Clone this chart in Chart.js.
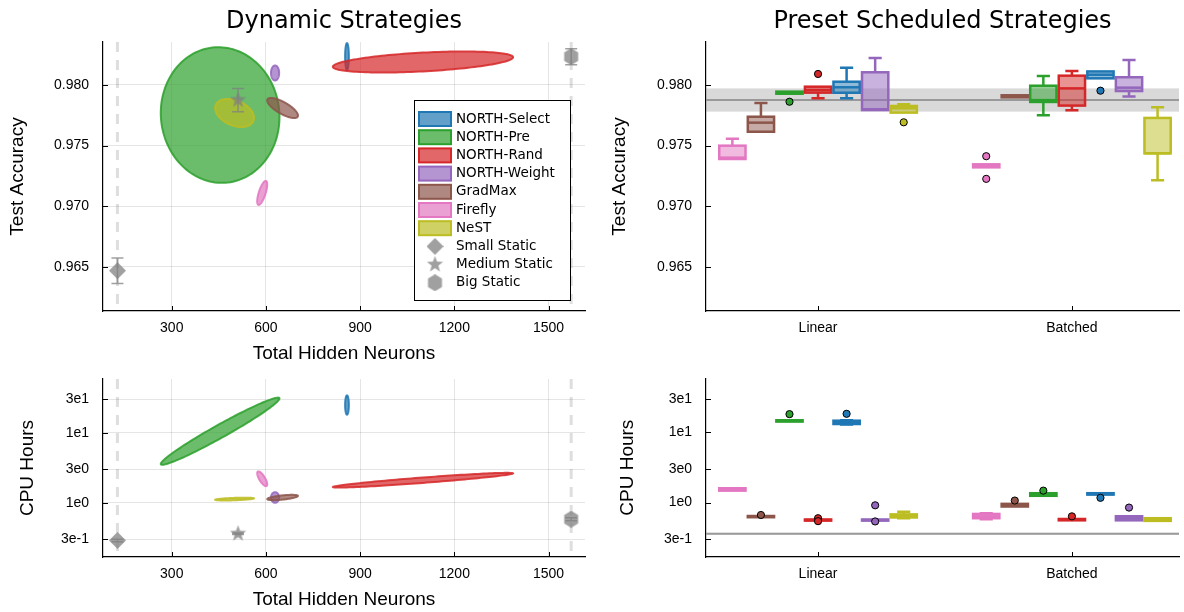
<!DOCTYPE html>
<html>
<head>
<meta charset="utf-8">
<script src="https://cdn.jsdelivr.net/npm/chart.js@4.4.1/dist/chart.umd.min.js"></script>
<style>
html, body { margin: 0; padding: 0; background: #fff; }
#wrap { position: relative; width: 1184px; height: 612px; }
canvas { position: absolute; }
</style>
</head>
<body>
<div id="wrap">
<canvas id="dynAcc" width="600" height="370" style="left:0;top:0"></canvas>
<canvas id="presetAcc" width="584" height="370" style="left:600px;top:0"></canvas>
<canvas id="dynCpu" width="600" height="242" style="left:0;top:370px"></canvas>
<canvas id="presetCpu" width="584" height="242" style="left:600px;top:370px"></canvas>
</div>
<script>
const FONT = "'DejaVu Sans', sans-serif"

// strategies (legend order) and their colours
const strategies = ['NORTH-Select', 'NORTH-Pre', 'NORTH-Rand', 'NORTH-Weight', 'GradMax', 'Firefly', 'NeST']
const colors = ['#1f77b4', '#2ca02c', '#d62728', '#9467bd', '#8c564b', '#e377c2', '#bcbd22']

// dynamic strategies: mean and spread of hidden neurons, accuracy and cpu hours
const neuronMean = [858, 454, 1100, 629, 653, 588, 500]
const neuronSpread = [6, 189, 287, 13, 49, 16, 62]
const accMean = [0.98235, 0.97752, 0.98190, 0.98099, 0.97810, 0.97109, 0.97769]
const accSpread = [0.00111, 0.00560, 0.00087, 0.00062, 0.00083, 0.00099, 0.00116]
const accCorr = [0, -0.03, 0.45, 0, -0.75, 0.7, -0.35]
const cpuMean = [24.8, 10.5, 2.1, 1.19, 1.19, 2.2, 1.13]
const cpuLogSpread = [0.138, 0.479, 0.105, 0.076, 0.038, 0.105, 0.02]
const cpuCorr = [0, 0.975, 0.93, 0, 0.6, -0.75, 0.5]

// static baselines
const staticNames = ['Small Static', 'Medium Static', 'Big Static']
const staticNeurons = [127, 511, 1572]
const staticAcc = [0.96467, 0.97876, 0.98234]
const staticAccErr = [0.00105, 0.00096, 0.00066]
const staticCpu = [0.291, 0.362, 0.583]
const staticCpuErr = [0.012, 0.01, 0.03]

// ticks
const neuronTicks = [300, 600, 900, 1200, 1500]
const accTicks = [0.965, 0.970, 0.975, 0.980]
const cpuTicks = [0.3, 1, 3, 10, 30]
const cpuTickLabels = ['3e-1', '1e0', '3e0', '1e1', '3e1']
const groupPos = [1, 2]
const groups = ['Linear', 'Batched']

// preset scheduled strategies, box order and [min, q1, median, q3, max]
const boxOrder = ['Firefly', 'GradMax', 'NORTH-Pre', 'NORTH-Rand', 'NORTH-Select', 'NORTH-Weight', 'NeST']
const accLinear = [
    [0.97389, 0.97389, 0.97400, 0.97499, 0.97556],
    [0.97614, 0.97614, 0.97689, 0.97738, 0.97851],
    [0.97928, 0.97928, 0.97936, 0.97945, 0.97945],
    [0.97890, 0.97937, 0.97959, 0.97986, 0.97986],
    [0.97890, 0.97936, 0.97981, 0.98027, 0.98143],
    [0.97793, 0.97793, 0.97800, 0.98105, 0.98223],
    [0.97772, 0.97772, 0.97808, 0.97827, 0.97841]
]
const accLinearOut = [[], [], [0.97862], [0.98091], [], [], [0.97692]]
const accBatched = [
    [0.97320, 0.97320, 0.97332, 0.97345, 0.97345],
    [0.97898, 0.97898, 0.97905, 0.97915, 0.97915],
    [0.97750, 0.97860, 0.97875, 0.97994, 0.98074],
    [0.97791, 0.97830, 0.97972, 0.98077, 0.98115],
    [0.98055, 0.98055, 0.98085, 0.98112, 0.98112],
    [0.97904, 0.97950, 0.97978, 0.98064, 0.98206],
    [0.97214, 0.97436, 0.97436, 0.97728, 0.97816]
]
const accBatchedOut = [[0.97412, 0.97225], [], [], [], [0.97953], [], []]
const cpuLinear = [
    [1.48, 1.48, 1.54, 1.60, 1.60],
    [0.62, 0.62, 0.632, 0.645, 0.645],
    [14.2, 14.2, 14.5, 14.8, 14.8],
    [0.555, 0.555, 0.565, 0.575, 0.575],
    [12.9, 13.1, 13.7, 14.6, 14.8],
    [0.555, 0.555, 0.565, 0.575, 0.575],
    [0.60, 0.615, 0.65, 0.68, 0.74]
]
const cpuLinearOut = [[], [0.667], [18.1], [0.60, 0.545], [18.3], [0.916, 0.54], []]
const cpuBatched = [
    [0.58, 0.60, 0.638, 0.69, 0.705],
    [0.88, 0.88, 0.926, 0.96, 0.96],
    [1.25, 1.25, 1.31, 1.36, 1.36],
    [0.56, 0.56, 0.572, 0.585, 0.585],
    [1.30, 1.30, 1.33, 1.36, 1.36],
    [0.56, 0.56, 0.60, 0.64, 0.64],
    [0.55, 0.55, 0.577, 0.60, 0.60]
]
const cpuBatchedOut = [[], [1.07], [1.48], [0.638], [1.17], [0.85], []]

const boxStep = 0.1125
const boxWidth = 0.1035
const staticColor = 'rgba(128,128,128,0.75)'

function rgba(hex, a) {
    let n = parseInt(hex.slice(1), 16)
    return `rgba(${(n >> 16) & 255},${(n >> 8) & 255},${n & 255},${a})`
}
function colorOf(name) {
    return colors[strategies.indexOf(name)]
}

// marker images for the static runs
function markerImage(kind, size) {
    let c = document.createElement('canvas')
    c.width = size
    c.height = size
    let g = c.getContext('2d')
    let r = size / 2
    g.fillStyle = staticColor
    g.beginPath()
    if (kind === 'diamond') {
        g.moveTo(r, 0); g.lineTo(size, r); g.lineTo(r, size); g.lineTo(0, r)
    } else if (kind === 'star') {
        for (let k = 0; k < 10; k++) {
            let a = -Math.PI / 2 + k * Math.PI / 5
            let rr = k % 2 ? r * 0.42 : r
            g.lineTo(r + rr * Math.cos(a), r + rr * Math.sin(a))
        }
    } else {
        for (let k = 0; k < 6; k++) {
            let a = -Math.PI / 2 + k * Math.PI / 3
            g.lineTo(r + r * 0.95 * Math.cos(a), r + r * Math.sin(a))
        }
    }
    g.closePath()
    g.fill()
    return c
}
const markers = [markerImage('diamond', 17), markerImage('star', 17), markerImage('hexagon', 17)]

const titlePlugin = {
    id: 'panelTitle',
    afterDraw(chart, args, opts) {
        let { ctx, chartArea } = chart
        ctx.save()
        ctx.font = '24px ' + FONT
        ctx.fillStyle = '#000'
        ctx.textAlign = 'center'
        ctx.textBaseline = 'middle'
        ctx.fillText(opts.text, (chartArea.left + chartArea.right) / 2, 22)
        ctx.restore()
    }
}

// small tick marks inside the frame
const innerTicks = {
    id: 'innerTicks',
    afterDraw(chart) {
        let { ctx, chartArea, scales: { x, y } } = chart
        ctx.save()
        ctx.strokeStyle = '#000'
        ctx.lineWidth = 1
        ctx.beginPath()
        y.ticks.forEach(t => {
            let py = Math.round(y.getPixelForValue(t.value)) + 0.5
            ctx.moveTo(chartArea.left, py)
            ctx.lineTo(chartArea.left + 5, py)
        })
        x.ticks.forEach(t => {
            let px = Math.round(x.getPixelForValue(t.value)) + 0.5
            ctx.moveTo(px, chartArea.bottom)
            ctx.lineTo(px, chartArea.bottom - 5)
        })
        ctx.stroke()
        ctx.restore()
    }
}

// confidence ellipses of the dynamic strategies
const ellipsePlugin = {
    id: 'ellipses',
    beforeDatasetsDraw(chart, args, opts) {
        let { ctx, chartArea, scales: { x, y } } = chart
        ctx.save()
        ctx.beginPath()
        ctx.rect(chartArea.left, chartArea.top, chartArea.width, chartArea.height)
        ctx.clip()
        // dashed lines at the small and big static sizes
        ctx.strokeStyle = 'rgba(0,0,0,0.13)'
        ctx.lineWidth = 3
        ctx.setLineDash([10, 8])
        ;[staticNeurons[0], staticNeurons[2]].forEach(v => {
            let px = x.getPixelForValue(v)
            ctx.beginPath()
            ctx.moveTo(px, chartArea.top)
            ctx.lineTo(px, chartArea.bottom)
            ctx.stroke()
        })
        ctx.setLineDash([])
        for (let i = 0; i < strategies.length; i++) {
            let r = opts.corr[i]
            ctx.beginPath()
            for (let k = 0; k <= 144; k++) {
                let t = k / 144 * 2 * Math.PI
                let u = Math.cos(t)
                let w = r * Math.cos(t) + Math.sqrt(1 - r * r) * Math.sin(t)
                let px = x.getPixelForValue(neuronMean[i] + neuronSpread[i] * u)
                let val = opts.log
                    ? Math.pow(10, Math.log10(opts.mean[i]) + opts.spread[i] * w)
                    : opts.mean[i] + opts.spread[i] * w
                let py = y.getPixelForValue(val)
                if (k === 0) ctx.moveTo(px, py)
                else ctx.lineTo(px, py)
            }
            ctx.closePath()
            ctx.fillStyle = rgba(colors[i], 0.7)
            ctx.fill()
            ctx.strokeStyle = rgba(colors[i], 0.85)
            ctx.lineWidth = 2
            ctx.stroke()
        }
        ctx.restore()
    },
    afterDatasetsDraw(chart, args, opts) {
        let { ctx, scales: { x, y } } = chart
        ctx.save()
        ctx.strokeStyle = staticColor
        ctx.lineWidth = 1.5
        ctx.beginPath()
        for (let i = 0; i < staticNames.length; i++) {
            let px = x.getPixelForValue(staticNeurons[i])
            let lo = y.getPixelForValue(opts.staticVal[i] - opts.staticErr[i])
            let hi = y.getPixelForValue(opts.staticVal[i] + opts.staticErr[i])
            ctx.moveTo(px, lo); ctx.lineTo(px, hi)
            ctx.moveTo(px - 6, lo); ctx.lineTo(px + 6, lo)
            ctx.moveTo(px - 6, hi); ctx.lineTo(px + 6, hi)
        }
        ctx.stroke()
        ctx.restore()
    }
}

const legendPlugin = {
    id: 'strategyLegend',
    afterDraw(chart, args, opts) {
        if (!opts.show) return
        let { ctx, chartArea } = chart
        let left = chartArea.right - 171, top = chartArea.top + 58
        ctx.save()
        ctx.fillStyle = '#fff'
        ctx.fillRect(left, top, 156, 200)
        ctx.strokeStyle = '#000'
        ctx.lineWidth = 1
        ctx.strokeRect(left + 0.5, top + 0.5, 156, 200)
        ctx.font = '13.5px ' + FONT
        ctx.textBaseline = 'middle'
        strategies.concat(staticNames).forEach((name, i) => {
            let cy = top + 19 + i * 18.2
            if (i < strategies.length) {
                ctx.fillStyle = rgba(colors[i], 0.7)
                ctx.fillRect(left + 5, cy - 7, 32, 14)
                ctx.strokeStyle = colors[i]
                ctx.lineWidth = 2
                ctx.strokeRect(left + 5, cy - 7, 32, 14)
            } else {
                let img = markers[i - strategies.length]
                ctx.drawImage(img, left + 21 - img.width / 2, cy - img.height / 2)
            }
            ctx.fillStyle = '#000'
            ctx.fillText(name, left + 42, cy)
        })
        ctx.restore()
    }
}

// box plots and the medium static reference band
const boxPlugin = {
    id: 'boxes',
    beforeDatasetsDraw(chart, args, opts) {
        let { ctx, chartArea, scales: { x, y } } = chart
        ctx.save()
        let bLo = y.getPixelForValue(opts.band[0] - opts.band[1])
        let bHi = y.getPixelForValue(opts.band[0] + opts.band[1])
        ctx.fillStyle = 'rgba(128,128,128,0.3)'
        ctx.fillRect(chartArea.left, bHi, chartArea.width, bLo - bHi)
        let mid = y.getPixelForValue(opts.band[0])
        ctx.strokeStyle = '#999'
        ctx.lineWidth = 2
        ctx.beginPath()
        ctx.moveTo(chartArea.left, mid)
        ctx.lineTo(chartArea.right, mid)
        ctx.stroke()
        ctx.lineWidth = 2.5
        opts.groups.forEach((stats, g) => {
            stats.forEach((s, i) => {
                let c = colorOf(boxOrder[i])
                let cx = groupPos[g] + (i - 3) * boxStep
                let xl = x.getPixelForValue(cx - boxWidth / 2)
                let xr = x.getPixelForValue(cx + boxWidth / 2)
                let xc = x.getPixelForValue(cx)
                let capL = x.getPixelForValue(cx - boxWidth / 4)
                let capR = x.getPixelForValue(cx + boxWidth / 4)
                let [mn, q1, md, q3, mx] = s.map(v => y.getPixelForValue(v))
                ctx.strokeStyle = c
                ctx.beginPath()
                if (s[4] > s[3]) {
                    ctx.moveTo(xc, q3); ctx.lineTo(xc, mx)
                    ctx.moveTo(capL, mx); ctx.lineTo(capR, mx)
                }
                if (s[0] < s[1]) {
                    ctx.moveTo(xc, q1); ctx.lineTo(xc, mn)
                    ctx.moveTo(capL, mn); ctx.lineTo(capR, mn)
                }
                ctx.stroke()
                ctx.fillStyle = rgba(c, 0.5)
                ctx.fillRect(xl, q3, xr - xl, q1 - q3)
                ctx.strokeRect(xl, q3, xr - xl, q1 - q3)
                ctx.beginPath()
                ctx.moveTo(xl, md); ctx.lineTo(xr, md)
                ctx.stroke()
            })
        })
        ctx.restore()
    }
}

function fixedTicks(values) {
    return scale => { scale.ticks = values.map(v => ({ value: v })) }
}

// tick gap done with invisible tick marks so the axis adds no extra top padding
function yAxis(type, min, max, ticks, labels, title, width, titlePad, grid) {
    return {
        type: type, min: min, max: max,
        afterBuildTicks: fixedTicks(ticks),
        afterFit: scale => { scale.width = width },
        ticks: { font: { size: 14 }, color: '#000', padding: 0, callback: v => labels[ticks.indexOf(v)] },
        grid: { color: grid ? 'rgba(0,0,0,0.1)' : 'transparent', drawTicks: true, tickLength: 14, tickColor: 'transparent' },
        border: { display: true, color: '#000', width: 1.2 },
        title: { display: true, text: title, font: { size: 19 }, color: '#000', padding: { top: titlePad, bottom: 0 } }
    }
}

function xAxis(min, max, ticks, labels, title, height, titlePad, grid) {
    return {
        type: 'linear', min: min, max: max,
        afterBuildTicks: fixedTicks(ticks),
        afterFit: scale => { scale.height = height },
        ticks: { font: { size: 14 }, color: '#000', padding: 9, maxRotation: 0, callback: v => labels[ticks.indexOf(v)] },
        grid: { color: grid ? 'rgba(0,0,0,0.1)' : 'transparent', drawTicks: false },
        border: { display: true, color: '#000', width: 1.2 },
        title: { display: !!title, text: title, font: { size: 19 }, color: '#000', padding: { top: 0, bottom: titlePad } }
    }
}

function staticSets(values) {
    return staticNames.map((name, i) => ({
        label: name,
        data: [{ x: staticNeurons[i], y: values[i] }],
        pointStyle: markers[i],
        pointRadius: 8
    }))
}

function outlierSets(outLists) {
    return boxOrder.map((name, i) => {
        let pts = []
        outLists.forEach((list, g) => {
            list[i].forEach(v => pts.push({ x: groupPos[g] + (i - 3) * boxStep, y: v }))
        })
        return {
            label: name, data: pts,
            backgroundColor: colorOf(name), borderColor: '#000', borderWidth: 1,
            pointRadius: 3.6
        }
    })
}

const baseOpts = {
    responsive: false,
    devicePixelRatio: 1,
    animation: false,
    events: []
}

const neuronLabels = neuronTicks.map(v => String(v))
const accLabels = accTicks.map(v => v.toFixed(3))

new Chart(document.getElementById('dynAcc'), {
    type: 'scatter',
    data: { datasets: staticSets(staticAcc) },
    options: Object.assign({}, baseOpts, {
        layout: { padding: { top: 42, right: 15, left: 0, bottom: 0 } },
        scales: {
            x: xAxis(81, 1616, neuronTicks, neuronLabels, 'Total Hidden Neurons', 59, 4.6, true),
            y: yAxis('linear', 0.96134, 0.98355, accTicks, accLabels, 'Test Accuracy', 103, 6.6, true)
        },
        plugins: {
            legend: { display: false },
            tooltip: { enabled: false },
            panelTitle: { text: 'Dynamic Strategies' },
            ellipses: { mean: accMean, spread: accSpread, corr: accCorr, log: false, staticVal: staticAcc, staticErr: staticAccErr },
            strategyLegend: { show: true }
        }
    }),
    plugins: [ellipsePlugin, innerTicks, titlePlugin, legendPlugin]
})

new Chart(document.getElementById('dynCpu'), {
    type: 'scatter',
    data: { datasets: staticSets(staticCpu) },
    options: Object.assign({}, baseOpts, {
        layout: { padding: { top: 8, right: 15, left: 0, bottom: 0 } },
        scales: {
            x: xAxis(81, 1616, neuronTicks, neuronLabels, 'Total Hidden Neurons', 55, 0.6, true),
            y: yAxis('logarithmic', 0.1686, 58.3, cpuTicks, cpuTickLabels, 'CPU Hours', 103, 16.6, true)
        },
        plugins: {
            legend: { display: false },
            tooltip: { enabled: false },
            ellipses: { mean: cpuMean, spread: cpuLogSpread, corr: cpuCorr, log: true, staticVal: staticCpu, staticErr: staticCpuErr }
        }
    }),
    plugins: [ellipsePlugin, innerTicks]
})

new Chart(document.getElementById('presetAcc'), {
    type: 'scatter',
    data: { datasets: outlierSets([accLinearOut, accBatchedOut]) },
    options: Object.assign({}, baseOpts, {
        layout: { padding: { top: 42, right: 1, left: 0, bottom: 0 } },
        scales: {
            x: xAxis(0.5586, 2.4219, groupPos, groups, '', 59, 0, false),
            y: yAxis('linear', 0.96134, 0.98355, accTicks, accLabels, 'Test Accuracy', 106, 8.6, false)
        },
        plugins: {
            legend: { display: false },
            tooltip: { enabled: false },
            panelTitle: { text: 'Preset Scheduled Strategies' },
            boxes: { groups: [accLinear, accBatched], band: [staticAcc[1], staticAccErr[1]] }
        }
    }),
    plugins: [boxPlugin, innerTicks, titlePlugin]
})

new Chart(document.getElementById('presetCpu'), {
    type: 'scatter',
    data: { datasets: outlierSets([cpuLinearOut, cpuBatchedOut]) },
    options: Object.assign({}, baseOpts, {
        layout: { padding: { top: 8, right: 1, left: 0, bottom: 0 } },
        scales: {
            x: xAxis(0.5586, 2.4219, groupPos, groups, '', 55, 0, false),
            y: yAxis('logarithmic', 0.1686, 58.3, cpuTicks, cpuTickLabels, 'CPU Hours', 106, 16.6, false)
        },
        plugins: {
            legend: { display: false },
            tooltip: { enabled: false },
            boxes: { groups: [cpuLinear, cpuBatched], band: [staticCpu[1], staticCpuErr[1]] }
        }
    }),
    plugins: [boxPlugin, innerTicks]
})
</script>
</body>
</html>
